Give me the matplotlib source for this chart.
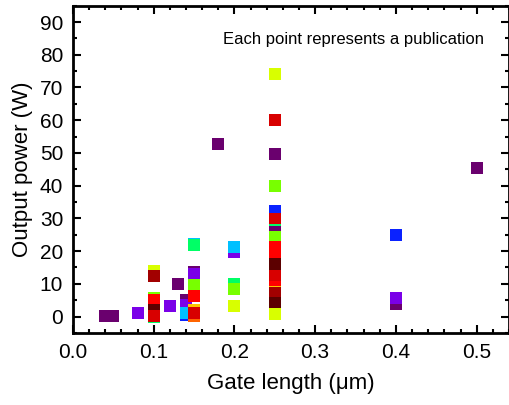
import matplotlib
matplotlib.use("Agg")
import matplotlib.pyplot as plt
from matplotlib.ticker import MultipleLocator

plt.rcParams['font.family'] = ['Liberation Sans', 'DejaVu Sans']

# colour codes used for the publications
palette = {
    'maroon': '#5c0000',
    'darkred': '#a20000',
    'red': '#d80000',
    'bright': '#ff0000',
    'orange': '#ff6400',
    'amber': '#ffc400',
    'yellow': '#d8ff00',
    'lime': '#78ff00',
    'green': '#00ff66',
    'cyan': '#00c0ff',
    'blue': '#0a22ff',
    'violet': '#7a00e8',
    'purple': '#6a006e',
}

# gate length (um), output power (W), colour key -- drawn in this order
gate_length = [0.04, 0.05, 0.08,
               0.10, 0.10, 0.10, 0.10, 0.10, 0.10, 0.10,
               0.12, 0.13,
               0.14, 0.14, 0.14, 0.14,
               0.15, 0.15, 0.15, 0.15, 0.15, 0.15, 0.15, 0.15, 0.15,
               0.18,
               0.20, 0.20, 0.20, 0.20, 0.20,
               0.25, 0.25, 0.25, 0.25, 0.25, 0.25, 0.25, 0.25, 0.25, 0.25,
               0.25, 0.25, 0.25, 0.25, 0.25, 0.25, 0.25, 0.25,
               0.40, 0.40, 0.40,
               0.50]
power = [0.3, 0.3, 1.1,
         14.0, 12.3, 5.7, 5.1, 2.0, -0.2, 0.1,
         3.2, 10.0,
         5.1, 3.4, 0.6, 1.0,
         22.3, 21.8, 13.5, 13.0, 9.7, 6.3, 0.2, 2.0, 1.1,
         52.6,
         19.7, 21.3, 10.0, 8.4, 3.3,
         74.1, 60.0, 49.8, 39.9, 32.4, 29.8, 26.5, 25.8, 24.4, 21.3,
         19.5, 16.0, 12.4, 9.0, 7.5, 7.2, 4.1, 0.8,
         25.0, 3.8, 5.7,
         45.5]
color_key = ['purple', 'purple', 'violet',
             'yellow', 'darkred', 'lime', 'bright', 'maroon', 'green', 'red',
             'violet', 'purple',
             'purple', 'violet', 'blue', 'cyan',
             'cyan', 'green', 'purple', 'violet', 'lime', 'bright', 'orange', 'amber', 'red',
             'purple',
             'violet', 'cyan', 'green', 'lime', 'yellow',
             'yellow', 'red', 'purple', 'lime', 'blue', 'red', 'green', 'purple', 'lime', 'bright',
             'bright', 'maroon', 'red', 'bright', 'amber', 'darkred', 'maroon', 'yellow',
             'blue', 'purple', 'violet',
             'purple']

fig = plt.figure(figsize=(5.1, 4.05), dpi=100)
ax = fig.add_axes([0.143, 0.178, 0.855, 0.808])

for x, y, c in zip(gate_length, power, color_key):
    ax.scatter(x, y, s=64, marker='s', color=palette[c], linewidths=0)

ax.set_xlim(0, 0.54)
ax.set_ylim(-5, 95)
ax.xaxis.set_major_locator(MultipleLocator(0.1))
ax.xaxis.set_minor_locator(MultipleLocator(0.02))
ax.yaxis.set_major_locator(MultipleLocator(10))
ax.yaxis.set_minor_locator(MultipleLocator(5))
ax.tick_params(which='both', direction='in', top=True, right=True, width=1.5)
ax.tick_params(which='major', length=6, labelsize=15, pad=7)
ax.tick_params(which='minor', length=3)
for s in ax.spines.values():
    s.set_linewidth(2)

ax.set_xlabel('Gate length (μm)', fontsize=16, labelpad=8)
ax.set_ylabel('Output power (W)', fontsize=16, labelpad=5)
ax.text(0.942, 0.897, 'Each point represents a publication', transform=ax.transAxes,
        ha='right', va='center', fontsize=12)

fig.savefig('out.png', dpi=100)
